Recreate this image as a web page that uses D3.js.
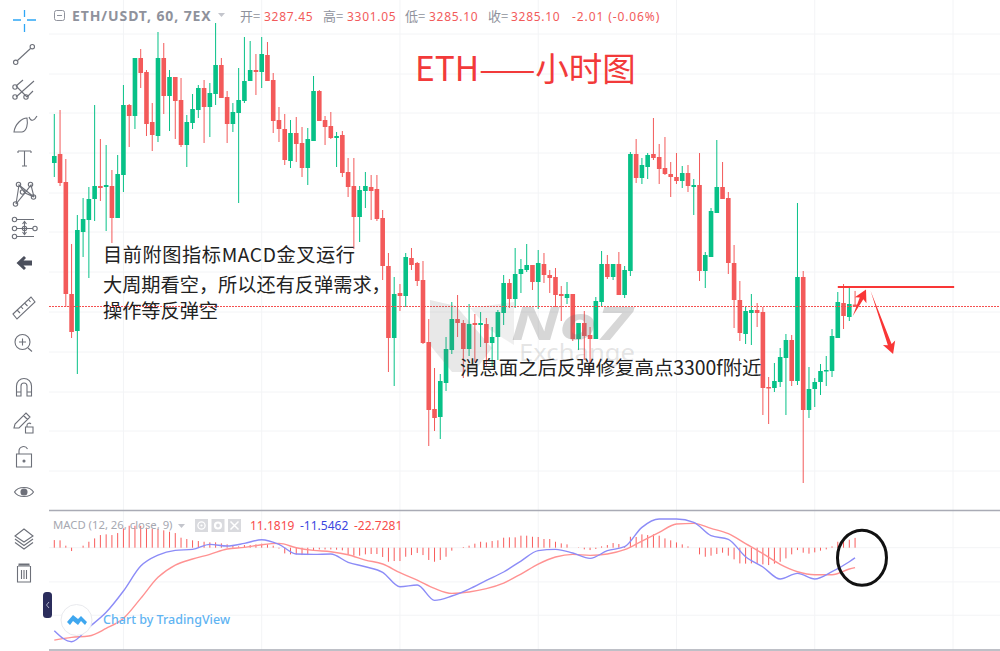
<!DOCTYPE html>
<html>
<head>
<meta charset="utf-8">
<script src="https://cdn.jsdelivr.net/npm/d3@7"></script>
<style>
    html, body { margin: 0; padding: 0; background: #fff; overflow: hidden; }
    text { font-family: "Noto Sans", "Noto Sans CJK SC", sans-serif; }
    .cjk { font-family: "Noto Sans CJK SC", "Noto Sans", sans-serif; }
</style>
</head>
<body>
<div id="chart"></div>
<script>
const WIDTH = 1000;
const HEIGHT = 651;

// hourly candles, oldest first
const opens = [3429,3438,3410,3298,3261,3360,3372,3393,3406,3405,3406,3374,3417,3487,3476,3534,3520,3470,3456,3534,
    3496,3515,3492,3447,3469,3482,3504,3485,3498,3527,3495,3468,3479,3491,3511,3522,3520,3537,3512,3472,
    3463,3431,3459,3449,3424,3451,3501,3472,3466,3454,3457,3420,3406,3375,3401,3405,3403,3374,3326,3254,
    3299,3296,3334,3329,3312,3250,3183,3175,3209,3242,3273,3269,3243,3269,3267,3268,3249,3255,3279,3309,
    3293,3318,3322,3327,3310,3328,3317,3315,3298,3294,3298,3253,3269,3257,3253,3290,3328,3315,3328,3297,
    3321,3438,3414,3425,3438,3435,3424,3418,3415,3411,3419,3405,3407,3321,3335,3379,3405,3394,3329,3292,
    3258,3279,3282,3280,3205,3204,3210,3234,3252,3211,3315,3182,3203,3210,3221,3221,3254,3289,3275,3287.45];
const highs = [3478,3482,3433,3348,3377,3394,3405,3487,3453,3447,3422,3437,3507,3488,3534,3543,3522,3489,3560,3549,
    3522,3515,3514,3477,3498,3507,3512,3509,3569,3534,3501,3489,3524,3555,3551,3538,3555,3550,3519,3485,
    3478,3472,3475,3465,3464,3516,3502,3476,3480,3460,3461,3434,3434,3406,3420,3417,3417,3382,3339,3315,
    3308,3339,3344,3330,3331,3273,3224,3218,3255,3290,3297,3272,3288,3278,3280,3274,3265,3282,3317,3313,
    3344,3333,3348,3327,3342,3339,3322,3324,3306,3310,3298,3269,3281,3265,3295,3341,3337,3328,3340,3326,
    3440,3453,3434,3439,3474,3448,3455,3430,3439,3426,3427,3413,3439,3340,3384,3452,3430,3400,3347,3311,
    3285,3298,3289,3285,3215,3229,3244,3258,3257,3389,3321,3225,3214,3228,3236,3263,3300,3308,3305,3301.05];
const lows = [3415,3406,3285,3254,3218,3335,3314,3371,3391,3361,3349,3374,3400,3445,3463,3504,3456,3441,3450,3478,
    3461,3453,3445,3425,3463,3474,3449,3455,3487,3494,3449,3460,3389,3489,3511,3497,3504,3511,3459,3450,
    3427,3424,3430,3415,3407,3451,3471,3447,3453,3425,3415,3395,3343,3350,3384,3372,3371,3312,3220,3206,
    3281,3285,3322,3306,3248,3146,3161,3153,3201,3238,3255,3214,3236,3230,3245,3225,3225,3232,3267,3284,
    3284,3299,3320,3302,3283,3309,3299,3285,3271,3288,3251,3242,3232,3229,3253,3285,3313,3312,3297,3294,
    3316,3409,3408,3413,3432,3408,3417,3395,3408,3404,3400,3377,3311,3304,3335,3379,3393,3318,3264,3251,
    3248,3247,3265,3177,3168,3200,3205,3177,3206,3207,3109,3174,3185,3197,3206,3215,3254,3263,3271,3285.10];
const closes = [3436,3409,3298,3260,3362,3373,3393,3406,3404,3407,3374,3418,3487,3476,3534,3519,3468,3457,3534,3496,
    3515,3491,3447,3470,3483,3504,3485,3499,3527,3494,3468,3480,3492,3511,3522,3520,3538,3511,3471,3463,
    3432,3459,3448,3424,3453,3501,3471,3465,3454,3456,3419,3405,3375,3402,3406,3401,3373,3326,3254,3298,
    3296,3335,3327,3311,3249,3182,3174,3211,3243,3273,3269,3243,3268,3267,3269,3249,3255,3280,3309,3293,
    3318,3323,3327,3310,3329,3317,3314,3297,3296,3298,3253,3269,3256,3253,3291,3328,3315,3328,3297,3322,
    3438,3414,3427,3437,3434,3423,3418,3415,3411,3419,3406,3407,3321,3337,3381,3405,3393,3329,3292,3259,
    3281,3282,3279,3204,3204,3211,3235,3252,3211,3315,3182,3203,3210,3221,3222,3256,3290,3276,3288,3285.10];

const gridPrices = [3558,3518,3479,3439,3399,3360,3320,3280,3240,3200,3161,3121];
const dayGridIndexes = [12,36,60,84,108,132,156];
const lastPrice = 3285.10;

// MACD histogram, one bar per candle
const histogram = [8.7,8.4,2.3,-3.8,0,2.3,6.8,10.6,14.4,15.2,14.4,16.7,22,25,25,25,22.8,21.3,21.3,19.8,
    18.2,16.7,11.4,9.9,8.4,7.6,6.8,6.1,6.1,4.9,3.8,2.3,1.5,3,3,3.8,4.6,3.8,2.3,-1,
    -6.5,-7.6,-7.6,-8.4,-8.4,-3,-2,-2,-2,-2.3,-3,-7.6,-9.1,-9.1,-7.6,-7.2,-7.2,-10.6,-16,-15.2,
    -15.2,-10.3,-8.4,-6,-8.4,-14,-16,-14,-10.3,-3.4,0,0.8,2.3,4.6,6.8,6,7.6,8.4,11.4,11.8,
    11.8,13.7,13.7,12.5,12.2,9.9,9.9,6.8,4.9,3.8,0,0.4,-1.9,-2.7,-1.5,1.5,3,5.3,4.2,1.1,
    12.5,12.2,15.2,14.4,15.2,13.7,10.6,8.4,6,3.8,1.5,0,-7.6,-10.3,-9.1,-7.2,-5.7,-9.1,-13.3,-17.9,
    -18.2,-17.9,-18.2,-19,-19.8,-18.2,-16,-12.2,-7.6,-2.7,-5.7,-6.8,-5.3,-3.4,-1.9,1.5,6.8,6.8,9.1,11.18];

// MACD lines, read every third candle plus the last one
const macdIndexes = [0,3,6,9,12,15,18,21,24,27,30,33,36,39,42,45,48,51,54,57,60,63,66,69,72,75,78,81,84,87,90,93,96,99,
    102,105,108,111,114,117,120,123,126,129,132,135,138,139];
const macdLine = [-94.6,-107.2,-90.8,-73.7,-49.4,-20.9,-8.4,-3,-1.9,3.8,1.9,4.9,9.1,3.8,-7.2,-7.6,-7.2,-16.7,
    -21.7,-28.1,-44.5,-42.6,-60,-55.1,-47.1,-37.2,-27.7,-15.2,-3.4,-1.9,-6.1,-12.2,-3.4,1.1,23.2,32.7,
    32.7,28.9,13.7,9.5,-10.3,-22,-35.7,-29.3,-35.7,-27.4,-16,-11.5462];
const signalLine = [-105.3,-102.2,-100.7,-92,-80.6,-57.8,-33.8,-19.8,-12.9,-7.6,-1.5,0.4,3.4,4.9,0,-3,-4.6,-8,
    -14.1,-18.6,-28.5,-36.9,-46.4,-52.1,-50.5,-46.7,-40.3,-30,-18.6,-10.6,-7.6,-8.7,-7.2,-2.3,7.6,17.5,
    27,27.7,22,16,4.6,-6.8,-19,-27.4,-30.8,-30.8,-24.3,-22.7281];
const macdGridValues = [0,-39,-77];

const headerLabels = ["开=","高=","低=","收="];
const headerValues = ["3287.45","3301.05","3285.10","3285.10"];
const noteLines = ["目前附图指标MACD金叉运行","大周期看空，所以还有反弹需求，","操作等反弹空"];

const GREEN = "#07c187";
const RED = "#f35a5a";
const GRID = "#f3f4f6";
const ICON = "#6d7079";

const svg = d3.select("#chart").append("svg")
    .attr("width", WIDTH)
    .attr("height", HEIGHT)
    .style("display", "block");

const x = d3.scaleLinear().domain([0, 156]).range([54.3, 953]);
const y = d3.scaleLinear().domain([3592, 3082]).range([0, 510]);
const yMacd = d3.scaleLinear().domain([0, -114]).range([547.7, 647.7]);

const drawGrid = () => {
    const g = svg.append("g").attr("class", "grid");
    g.selectAll("line.h").data(gridPrices).enter().append("line")
        .attr("x1", 49).attr("x2", WIDTH)
        .attr("y1", d => y(d)).attr("y2", d => y(d))
        .attr("stroke", GRID);
    g.selectAll("line.m").data(macdGridValues).enter().append("line")
        .attr("x1", 49).attr("x2", WIDTH)
        .attr("y1", d => yMacd(d)).attr("y2", d => yMacd(d))
        .attr("stroke", GRID);
    g.selectAll("line.v").data(dayGridIndexes).enter().append("line")
        .attr("x1", d => x(d)).attr("x2", d => x(d))
        .attr("y1", 0).attr("y2", 650)
        .attr("stroke", GRID);
    [510.5, 650].forEach((py) => {
        g.append("line")
            .attr("x1", 49).attr("x2", WIDTH)
            .attr("y1", py).attr("y2", py)
            .attr("stroke", "#a9abb5")
            .attr("stroke-width", 1.5);
    });
}

const drawCandles = () => {
    const candles = d3.range(opens.length).map((i) => {
        return {i, open: opens[i], high: highs[i], low: lows[i], close: closes[i]};
    });
    const g = svg.append("g").attr("class", "candles");
    const color = d => d.close >= d.open ? GREEN : RED;

    g.selectAll("line").data(candles).enter().append("line")
        .attr("x1", d => x(d.i)).attr("x2", d => x(d.i))
        .attr("y1", d => y(d.high)).attr("y2", d => y(d.low))
        .attr("stroke", color);
    g.selectAll("rect").data(candles).enter().append("rect")
        .attr("x", d => x(d.i) - 2.3)
        .attr("width", 4.6)
        .attr("y", d => y(Math.max(d.open, d.close)))
        .attr("height", d => Math.max(1.5, Math.abs(y(d.open) - y(d.close))))
        .attr("fill", color);
}

const drawPriceLine = () => {
    const py = Math.floor(y(lastPrice)) + 0.5;
    svg.append("line")
        .attr("x1", 49).attr("x2", WIDTH)
        .attr("y1", py).attr("y2", py)
        .attr("stroke", "#f55050")
        .attr("stroke-dasharray", "2 1");
}

const drawWatermark = () => {
    const g = svg.append("g").attr("class", "watermark");
    g.append("path")
        .attr("d", "M430 300 L456 306 L492 348 L474 372 L452 372 L430 345 Z")
        .attr("fill", "rgba(120,120,120,0.17)");
    g.append("path")
        .attr("d", "M470 308 L514 302 L514 345 L490 330 Z")
        .attr("fill", "rgba(120,120,120,0.12)");
    g.append("text")
        .attr("x", 511).attr("y", 340)
        .attr("font-size", 47)
        .attr("font-weight", 700)
        .attr("font-style", "italic")
        .attr("textLength", 121)
        .attr("lengthAdjust", "spacingAndGlyphs")
        .attr("fill", "rgba(110,110,110,0.28)")
        .text("No7");
    g.append("text")
        .attr("x", 519).attr("y", 361)
        .attr("font-size", 24)
        .attr("textLength", 116)
        .attr("lengthAdjust", "spacingAndGlyphs")
        .attr("fill", "rgba(120,120,120,0.2)")
        .text("Exchange");
}

const drawHeader = () => {
    const g = svg.append("g").attr("class", "header");
    g.append("rect")
        .attr("x", 54.5).attr("y", 10.5).attr("width", 10).attr("height", 10).attr("rx", 2)
        .attr("fill", "none").attr("stroke", "#8f929c");
    g.append("line")
        .attr("x1", 57).attr("x2", 62).attr("y1", 15.5).attr("y2", 15.5)
        .attr("stroke", "#8f929c");
    g.append("text")
        .attr("x", 72).attr("y", 20.5)
        .attr("font-size", 14)
        .attr("font-weight", 700)
        .attr("letter-spacing", 0.9)
        .attr("fill", "#8f929c")
        .text("ETH/USDT, 60, 7EX");
    g.append("path").attr("d", "M218 13 L225 13 L221.5 17 Z").attr("fill", "#c3c5cc");

    const labelX = [240, 323, 405, 488];
    const valueX = [264, 347, 429, 511];
    g.selectAll("text.label").data(headerLabels).enter().append("text")
        .attr("class", "label cjk")
        .attr("x", (d, i) => labelX[i]).attr("y", 20.5)
        .attr("font-size", 13)
        .attr("fill", "#8f929c")
        .text(d => d);
    g.selectAll("text.value").data(headerValues).enter().append("text")
        .attr("class", "value")
        .attr("x", (d, i) => valueX[i]).attr("y", 20.5)
        .attr("font-size", 12)
        .attr("letter-spacing", 0.7)
        .attr("fill", "#f25b5b")
        .text(d => d);
    g.append("text")
        .attr("x", 572).attr("y", 20.5)
        .attr("font-size", 12)
        .attr("letter-spacing", 0.9)
        .attr("fill", "#f25b5b")
        .text("-2.01 (-0.06%)");
}

const drawNotes = () => {
    const g = svg.append("g").attr("class", "notes");
    g.append("text")
        .attr("class", "cjk")
        .attr("x", 415).attr("y", 81)
        .attr("font-size", 33.5)
        .attr("fill", "#f23a3a")
        .text("ETH——小时图");
    const noteY = [262, 292, 318];
    g.selectAll("text.note").data(noteLines).enter().append("text")
        .attr("class", "note cjk")
        .attr("x", 103).attr("y", (d, i) => noteY[i])
        .attr("font-size", 19.2)
        .attr("textLength", (d, i) => i === 0 ? 252 : null)
        .attr("fill", "#222")
        .text(d => d);
    g.append("text")
        .attr("class", "cjk")
        .attr("x", 460).attr("y", 375)
        .attr("font-size", 19.4)
        .attr("fill", "#222")
        .text("消息面之后反弹修复高点3300f附近");
}

const arrowPath = (x0, y0, x1, y1) => {
    const dx = x1 - x0;
    const dy = y1 - y0;
    const len = Math.sqrt(dx * dx + dy * dy);
    const ux = dx / len;
    const uy = dy / len;
    const side = (along, off) => [x1 - ux * along - uy * off, y1 - uy * along + ux * off];
    const pts = [
        [x0, y0],
        side(10, 2),
        side(12, 6.5),
        [x1, y1],
        side(12, -6.5),
        side(10, -2),
    ];
    return "M" + pts.map(p => p.join(" ")).join("L") + "Z";
}

const drawLevels = () => {
    const g = svg.append("g").attr("class", "levels");
    g.append("line")
        .attr("x1", x(136)).attr("x2", x(156.2))
        .attr("y1", y(3305)).attr("y2", y(3305))
        .attr("stroke", "#f93636")
        .attr("stroke-width", 2);
    g.append("path")
        .attr("d", arrowPath(x(138.6), y(3276), x(140.9), y(3302.5)))
        .attr("fill", "#f93636");
    g.append("path")
        .attr("d", arrowPath(x(141.7), y(3301), x(145.6), y(3238)))
        .attr("fill", "#f93636");
}

const drawMacd = () => {
    const g = svg.append("g").attr("class", "macd");
    g.selectAll("line").data(histogram).enter().append("line")
        .attr("x1", (d, i) => x(i)).attr("x2", (d, i) => x(i))
        .attr("y1", yMacd(0)).attr("y2", d => yMacd(d))
        .attr("stroke", "#f85c5c");

    const line = d3.line()
        .x((d, i) => x(macdIndexes[i]))
        .y(d => yMacd(d))
        .curve(d3.curveMonotoneX);
    g.append("path").attr("d", line(signalLine))
        .attr("fill", "none").attr("stroke", "#ff9292").attr("stroke-width", 1.4);
    g.append("path").attr("d", line(macdLine))
        .attr("fill", "none").attr("stroke", "#8c8cf7").attr("stroke-width", 1.4);

    // hand drawn circle around the last bars
    g.append("ellipse")
        .attr("cx", x(140.2)).attr("cy", yMacd(-11.4))
        .attr("rx", 24.5).attr("ry", 27.5)
        .attr("fill", "none")
        .attr("stroke", "#111")
        .attr("stroke-width", 3);

    g.append("text")
        .attr("x", 53).attr("y", 529)
        .attr("font-size", 11.3)
        .attr("fill", "#a6a8b1")
        .text("MACD (12, 26, close, 9)");
    g.append("path").attr("d", "M178 524 L185 524 L181.5 528 Z").attr("fill", "#c3c5cc");

    [195, 211.5, 228].forEach((bx, n) => {
        g.append("rect")
            .attr("x", bx).attr("y", 519).attr("width", 13).attr("height", 13)
            .attr("fill", "#d9dade");
        if(n === 0) {
            g.append("circle").attr("cx", bx + 6.5).attr("cy", 525.5).attr("r", 3.6)
                .attr("fill", "none").attr("stroke", "#fff").attr("stroke-width", 1.3);
            g.append("circle").attr("cx", bx + 6.5).attr("cy", 525.5).attr("r", 1.1).attr("fill", "#fff");
        }
        else if(n === 1) {
            g.append("circle").attr("cx", bx + 6.5).attr("cy", 525.5).attr("r", 3)
                .attr("fill", "none").attr("stroke", "#fff").attr("stroke-width", 2.2);
        }
        else {
            g.append("path").attr("d", `M${bx + 2.5} 521.5 L${bx + 10.5} 529.5 M${bx + 10.5} 521.5 L${bx + 2.5} 529.5`)
                .attr("stroke", "#fff").attr("stroke-width", 1.5);
        }
    });

    const legend = [
        {x: 250, text: "11.1819", fill: "#f84c4c"},
        {x: 300, text: "-11.5462", fill: "#3b46e0"},
        {x: 354, text: "-22.7281", fill: "#f84c4c"},
    ];
    g.selectAll("text.legend").data(legend).enter().append("text")
        .attr("class", "legend")
        .attr("x", d => d.x).attr("y", 530)
        .attr("font-size", 12)
        .attr("fill", d => d.fill)
        .text(d => d.text);
}

const drawBranding = () => {
    const g = svg.append("g").attr("class", "branding");
    g.append("rect")
        .attr("x", 43).attr("y", 592).attr("width", 9).attr("height", 26).attr("rx", 3.5)
        .attr("fill", "#2b2d5c");
    g.append("path")
        .attr("d", "M49 602 L46.5 605 L49 608")
        .attr("fill", "none").attr("stroke", "#aeb0c8");
    g.append("circle")
        .attr("cx", 76.5).attr("cy", 620).attr("r", 15.5)
        .attr("fill", "#fff").attr("stroke", "#e9eaee");
    g.append("path")
        .attr("d", "M67 622 L73 615 L78 619 L81 616 L87 622 L85 625 L81 621 L78 625 L73 621 L70 625 Z")
        .attr("fill", "#3fa7ef");
    g.append("text")
        .attr("x", 103).attr("y", 624)
        .attr("font-size", 12.5)
        .attr("font-weight", 500)
        .attr("fill", "#5fb4f2")
        .text("Chart by TradingView");
}

const drawToolbar = () => {
    const g = svg.append("g").attr("class", "toolbar")
        .attr("fill", "none")
        .attr("stroke", ICON)
        .attr("stroke-width", 1.1);
    const dot = (cx, cy) => g.append("circle").attr("cx", cx).attr("cy", cy).attr("r", 2.2);
    const stroke = (d) => g.append("path").attr("d", d);

    // crosshair
    g.append("path").attr("d", "M13 20 H21 M27 20 H36 M24.5 10 V17 M24.5 24 V32")
        .attr("stroke", "#2ea6f5").attr("stroke-width", 1.3);
    // trend line
    stroke("M17.5 60.5 L30.5 48.5"); dot(15.7, 62.3); dot(32.3, 46.7);
    // pitchfork
    stroke("M16 86 L23 80 M16 97 L34 81 M27 97 L33 91 M16 86 L27 97");
    dot(15, 87); dot(15, 97); dot(26, 97);
    // brush
    stroke("M14 132 C15 124 22 118 27 118 C28 124 27 131 22 132 Z M29 117 C31 122 34 121 37 116");
    // text
    stroke("M18 151 H31 M18 151 V153 M31 151 V153 M24.5 151 V166 M22 166 H27");
    // patterns
    stroke("M16 204 L19 185 L25 193 L31 185 L34 197 M16 204 L25 193 L34 197 M19 185 L34 197 M31 185 L16 204");
    dot(15.5, 204); dot(18.5, 184.5); dot(30.5, 184.5); dot(33.5, 197); dot(22.5, 192);
    // fib
    stroke("M17 219.5 H34 M17 228.5 H33 M17 236.5 H34 M24.5 222 V234 M22.5 224 L24.5 221.5 L26.5 224 M22.5 232 L24.5 234.5 L26.5 232");
    dot(14.5, 219.5); dot(14.5, 228.5); dot(14.5, 236.5); dot(24.5, 228.5); dot(35, 228.5);
    // back arrow
    g.append("path").attr("d", "M16.5 263 L24 256 L26 258 L23.5 260.5 L32 260.5 L32 265.5 L23.5 265.5 L26 268 L24 270 Z")
        .attr("fill", "#4b4f5c").attr("stroke", "none");
    // ruler
    stroke("M13 314 L31 297 L35 302 L17 319 Z M17 310 L20 313 M21 306.5 L23 309 M24.5 303 L27.5 306 M28.5 299.5 L30.5 302");
    // magnifier
    g.append("circle").attr("cx", 22.5).attr("cy", 342).attr("r", 7.5);
    stroke("M19 342 H26 M22.5 338.5 V345.5 M28 348 L32 351.5");
    // magnet
    stroke("M16.5 396 V386 A7.5 7.5 0 0 1 31.5 386 V396 H27 V386 A3 3 0 0 0 21 386 V396 Z M16.5 392 H21 M27 392 H31.5");
    // pencil and lock
    stroke("M14 428 L15 424 L26 413 L30 417 L19 428 Z M23.5 415.5 L27.5 419.5 M25.5 427 H33 V433 H25.5 Z M27 427 V425 A2.3 2.3 0 0 1 31 424");
    // lock
    stroke("M16.5 454 H31.5 V467 H16.5 Z M19 454 V451 A4.5 4.5 0 0 1 27.5 449");
    g.append("circle").attr("cx", 24).attr("cy", 461).attr("r", 1).attr("fill", ICON);
    // eye
    stroke("M14.5 492 C18 486 30 486 33.5 492 C30 498 18 498 14.5 492 Z");
    g.append("circle").attr("cx", 24).attr("cy", 492).attr("r", 3).attr("fill", ICON);
    // layers
    stroke("M24 529 L33 536 L24 542 L15 536 Z M15 539 L24 545.5 L33 539 M15 542.5 L24 549 L33 542.5");
    // trash
    stroke("M18 566 H30 M17.5 566 V582 H30.5 V566 M21.5 570 V579 M24 570 V579 M26.5 570 V579");
    g.append("path").attr("d", "M18.5 564.5 H29.5").attr("stroke-width", 2);
}

drawGrid();
drawCandles();
drawPriceLine();
drawWatermark();
drawHeader();
drawMacd();
drawBranding();
drawLevels();
drawNotes();
drawToolbar();
</script>
</body>
</html>
